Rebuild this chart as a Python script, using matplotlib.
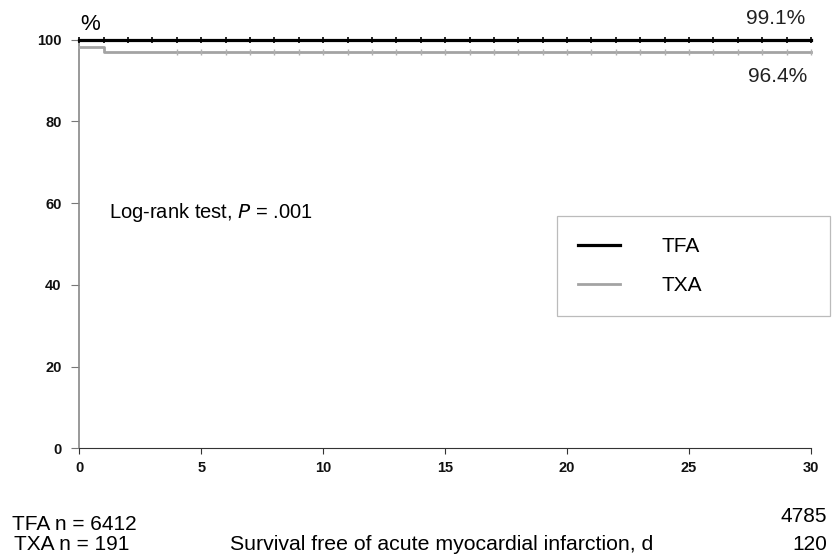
import matplotlib
matplotlib.use('Agg')
import matplotlib.pyplot as plt
from matplotlib.lines import Line2D

plt.rcParams['font.family'] = ['Liberation Sans', 'DejaVu Sans']

# 生存曲线数据
tfa_days = [0, 30]
tfa_surv = [99.8, 99.8]
txa_days = [0, 1, 30]
txa_surv = [98.2, 96.9, 96.9]
# 删失标记
tfa_censor = list(range(0, 31))
txa_censor = list(range(4, 31))

x_ticks = [0, 5, 10, 15, 20, 25, 30]
y_ticks = [0, 20, 40, 60, 80, 100]
tfa_n = [6412, 4785]
txa_n = [191, 120]

fig = plt.figure(figsize=(8.33, 5.58), dpi=100)
ax = fig.add_axes([0.0952, 0.1966, 0.8784, 0.7326])

ax.step(tfa_days, tfa_surv, where='post', color='black', lw=2.3, clip_on=False, zorder=4)
ax.step(txa_days, txa_surv, where='post', color='#a3a3a3', lw=2.0, clip_on=False, zorder=3)
ax.plot(tfa_censor, [tfa_surv[-1]] * len(tfa_censor), ls='none', marker='|',
        ms=5, mew=1.2, color='black', clip_on=False, zorder=5)
ax.plot(txa_censor, [txa_surv[-1]] * len(txa_censor), ls='none', marker='|',
        ms=5, mew=1.0, color='#b0b0b0', clip_on=False, zorder=5)

ax.set_xlim(0, 30)
ax.set_ylim(0, 100)
ax.set_xticks(x_ticks)
ax.set_yticks(y_ticks)
ax.set_xticklabels([str(t) for t in x_ticks], fontsize=10.5, weight='bold', color='#111111')
ax.set_yticklabels([str(t) for t in y_ticks], fontsize=10.5, weight='bold', color='#111111')
ax.tick_params(axis='x', direction='out', length=4.5, width=0.8, pad=5, color='#333333')
ax.tick_params(axis='y', direction='out', length=5.8, width=0.8, pad=7, color='#777777')

ax.spines['top'].set_visible(False)
ax.spines['right'].set_visible(False)
ax.spines['left'].set_color('#888888')
ax.spines['left'].set_linewidth(1.2)
ax.spines['bottom'].set_color('#333333')
ax.spines['bottom'].set_linewidth(0.8)

# 文字
fig.text(80 / 833, 1 - 24 / 558, '%', fontsize=16, ha='left', va='center')
fig.text(805 / 833, 1 - 19 / 558, '99.1%', fontsize=15, ha='right', va='center', color='#222222')
fig.text(807 / 833, 1 - 76 / 558, '96.4%', fontsize=15, ha='right', va='center', color='#222222')
fig.text(109 / 833, 1 - 212 / 558, 'Log-rank test, $\\it{P}$ = .001', fontsize=14.5,
         ha='left', va='center')

handles = [Line2D([], [], color='black', lw=2.3),
           Line2D([], [], color='#a3a3a3', lw=2.0)]
leg = fig.legend(handles, ['TFA', 'TXA'], loc='center',
                 bbox_to_anchor=(557 / 833, 1 - 318 / 558, 273 / 833, 104 / 558),
                 bbox_transform=fig.transFigure, mode='expand', frameon=True,
                 fancybox=False, edgecolor='#aaaaaa', fontsize=15,
                 handlelength=2.0, handletextpad=2.0, labelspacing=0.95,
                 borderpad=1.0, borderaxespad=0)
leg.get_frame().set_linewidth(0.9)

fig.text(12 / 833, 1 - 524 / 558, f'TFA n = {tfa_n[0]}', fontsize=15, ha='left', va='center')
fig.text(14 / 833, 1 - 545 / 558, f'TXA n = {txa_n[0]}', fontsize=15, ha='left', va='center')
fig.text(442 / 833, 1 - 545 / 558, 'Survival free of acute myocardial infarction, d',
         fontsize=15.3, ha='center', va='center')
fig.text(827 / 833, 1 - 516 / 558, str(tfa_n[1]), fontsize=15, ha='right', va='center')
fig.text(827 / 833, 1 - 545 / 558, str(txa_n[1]), fontsize=15, ha='right', va='center')

fig.savefig('out.png', dpi=100)
